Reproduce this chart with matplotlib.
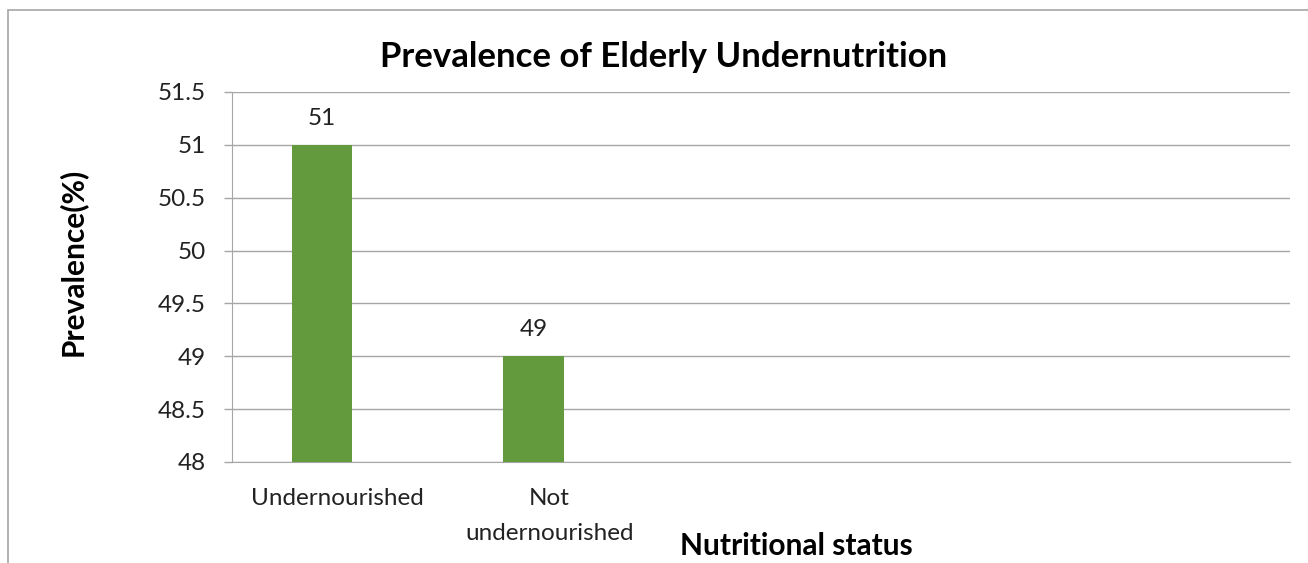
import matplotlib
matplotlib.use("Agg")
import matplotlib.pyplot as plt
from matplotlib.patches import Rectangle

# chart data
categories = ["Undernourished", "Not\nundernourished", "", "", ""]
prevalence = [51, 49]
y_ticks = [48, 48.5, 49, 49.5, 50, 50.5, 51, 51.5]
y_tick_labels = ["48", "48.5", "49", "49.5", "50", "50.5", "51", "51.5"]

bar_color = "#649a3e"
grid_color = "#a6a6a6"
plt.rcParams["font.family"] = ["Lato", "DejaVu Sans"]

fig = plt.figure(figsize=(13.08, 5.63), dpi=100)
ax = fig.add_axes([232 / 1308, 1 - 462 / 563, 1058 / 1308, 370 / 563])

# outer chart border (open at right and bottom, like the crop)
fig.patches.append(Rectangle((8 / 1308, -0.2), 1.2, 1.2 - 10 / 563,
                             transform=fig.transFigure, fill=False,
                             edgecolor=grid_color, lw=1.2))

x = list(range(len(prevalence)))
xpos = [i - 0.075 for i in x]
ax.bar(xpos, prevalence, width=0.285, color=bar_color, zorder=3)
for xp, v in zip(xpos, prevalence):
    ax.annotate(str(v), (xp, v), xytext=(0, 19), textcoords="offset points",
                ha="center", va="center", fontsize=17.5, color="#222222")

ax.set_ylim(48, 51.5)
ax.set_xlim(-0.5, len(categories) - 0.5)
ax.set_yticks(y_ticks)
ax.set_yticklabels(y_tick_labels)
ax.set_xticks(x)
ax.set_xticklabels(categories[:len(prevalence)], linespacing=1.8)
ax.tick_params(axis="y", length=6, width=1, color=grid_color, pad=13,
               labelsize=17.5, labelcolor="#222222")
ax.tick_params(axis="x", length=0, pad=19, labelsize=17.5, labelcolor="#222222")

ax.yaxis.grid(True, color=grid_color, lw=1)
ax.set_axisbelow(True)
for side in ["top", "right"]:
    ax.spines[side].set_visible(False)
ax.spines["left"].set_color(grid_color)
ax.spines["bottom"].set_color(grid_color)

fig.text(664 / 1308, 1 - 57 / 563, "Prevalence of Elderly Undernutrition",
         ha="center", va="center", fontsize=25, fontweight="bold")
fig.text(72 / 1308, 1 - 262 / 563, "Prevalence(%)", rotation=90,
         ha="center", va="center", fontsize=21.5, fontweight="bold")
fig.text(796 / 1308, 1 - 546 / 563, "Nutritional status",
         ha="center", va="center", fontsize=21.5, fontweight="bold")

fig.savefig("out.png", dpi=100)
